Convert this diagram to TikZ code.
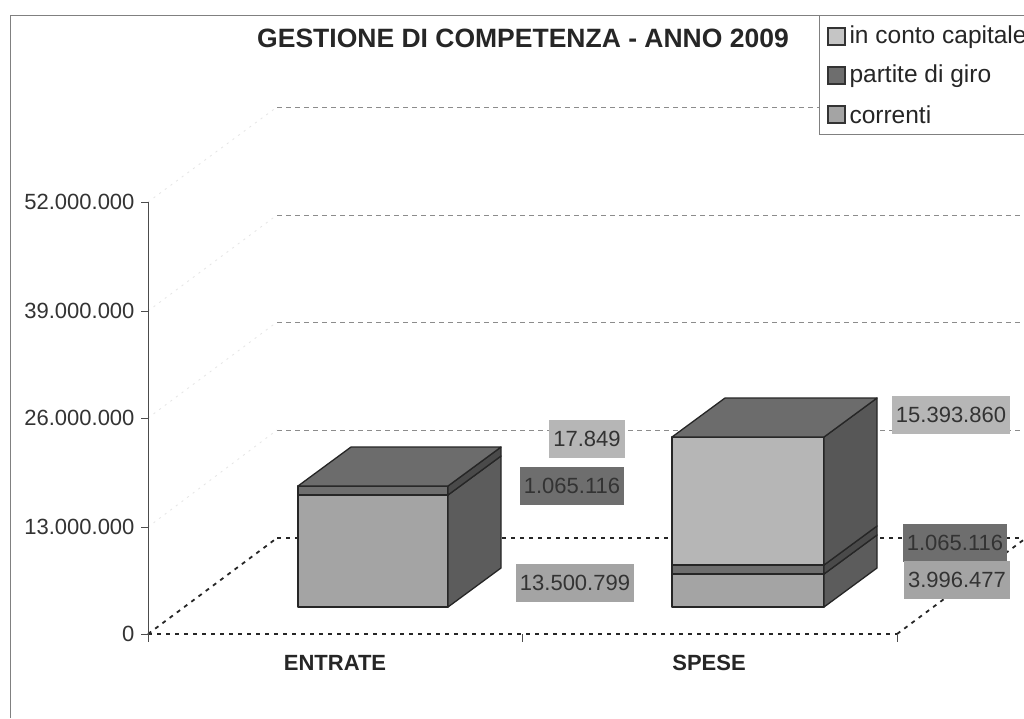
\documentclass[tikz,border=0pt]{standalone}
\usepackage{fontspec}
\setmainfont{Liberation Sans}
\usetikzlibrary{calc}
\definecolor{corrfront}{HTML}{A4A4A4}
\definecolor{corrside}{HTML}{5C5C5C}
\definecolor{girofront}{HTML}{6E6E6E}
\definecolor{giroside}{HTML}{4A4A4A}
\definecolor{capfront}{HTML}{B6B6B6}
\definecolor{capside}{HTML}{575757}
\definecolor{boxtop}{HTML}{6C6C6C}
\def\boxlayer[#1][#2](#3,#4)(#5:#6){\draw[boxedge, fill=#1] (#3, #5) rectangle (#4, #6);
	\draw[boxedge, fill=#2] (#4, #5) -- ++(53, -39) -- ++(0, #6-#5) -- (#4, #6) -- cycle;}

\begin{document}
\begin{tikzpicture}[x=1pt, y=-1pt,
		boxedge/.style={draw=black!85, line width=1.3pt, line join=round},
		gridline/.style={draw=black!45, line width=0.8pt, dash pattern=on 5pt off 4pt},
		flooredge/.style={draw=black!85, line width=1.8pt, dash pattern=on 4pt off 5pt},
		sidewall/.style={draw=black!10, line width=0.8pt, dash pattern=on 2pt off 5pt},
		ticklabel/.style={anchor=east, text=black!80, font=\fontsize{22}{24}\selectfont},
		catlabel/.style={text=black!85, font=\fontsize{22}{24}\selectfont\bfseries},
		vallabel/.style={inner xsep=4pt, inner ysep=0pt, minimum height=38pt, text=black!80, font=\fontsize{22}{24}\selectfont},
		legtext/.style={anchor=west, text=black!85, font=\fontsize{24.5}{26}\selectfont},
		legkey/.style={draw=black!80, line width=1.2pt}]
	%%%%% START %%%%%
	
	\useasboundingbox[fill=white] (0, 0) rectangle (1024, 718);
	\draw[black!50, line width=0.8pt] (10, 718) -- (10, 15) -- (1024, 15);
	
	% back wall and side wall
	\draw[gridline] (277, 107) -- (819, 107);
	\draw[gridline] (277, 215) -- (1024, 215);
	\draw[gridline] (277, 322) -- (1024, 322);
	\draw[gridline] (277, 430) -- (1024, 430);
	\draw[sidewall] (148, 202) -- (277, 107);
	\draw[sidewall] (148, 311) -- (277, 215);
	\draw[sidewall] (148, 418) -- (277, 322);
	\draw[sidewall] (148, 527) -- (277, 430);
	
	% floor
	\draw[flooredge] (277, 538) -- (1024, 538);
	\draw[flooredge] (148, 634) -- (277, 538);
	\draw[flooredge] (897, 634) -- (1026, 538);
	\draw[flooredge] (148, 634) -- (897, 634);
	
	% axis
	\draw[black!70, line width=0.9pt] (148, 202) -- (148, 642);
	\draw[black!70, line width=0.9pt] (141, 202) -- (148, 202);
	\draw[black!70, line width=0.9pt] (141, 311) -- (148, 311);
	\draw[black!70, line width=0.9pt] (141, 418) -- (148, 418);
	\draw[black!70, line width=0.9pt] (141, 527) -- (148, 527);
	\draw[black!70, line width=0.9pt] (141, 634) -- (148, 634);
	\draw[black!70, line width=0.9pt] (522, 634) -- (522, 642);
	\draw[black!70, line width=0.9pt] (897, 634) -- (897, 642);
	\node[ticklabel] (t52) at (138, 202) {52.000.000};
	\node[ticklabel] (t39) at (138, 311) {39.000.000};
	\node[ticklabel] (t26) at (138, 418) {26.000.000};
	\node[ticklabel] (t13) at (138, 527) {13.000.000};
	\node[ticklabel] (t0) at (138, 634) {0};
	
	% ENTRATE
	\boxlayer[corrfront][corrside](298, 448)(607:495);
	\boxlayer[girofront][giroside](298, 448)(495:486);
	\draw[boxedge, fill=boxtop] (298, 486) -- ++(53, -39) -- ++(150, 0) -- (448, 486) -- cycle;
	
	% SPESE
	\boxlayer[corrfront][corrside](672, 824)(607:574);
	\boxlayer[girofront][giroside](672, 824)(574:565);
	\boxlayer[capfront][capside](672, 824)(565:437);
	\draw[boxedge, fill=boxtop] (672, 437) -- ++(53, -39) -- ++(152, 0) -- (824, 437) -- cycle;
	
	\node[vallabel, fill=capfront] (ecap) at (587, 439) {17.849};
	\node[vallabel, fill=girofront] (egiro) at (572, 486) {1.065.116};
	\node[vallabel, fill=corrfront] (ecorr) at (575, 583) {13.500.799};
	\node[vallabel, fill=capfront] (scap) at (951, 415) {15.393.860};
	\node[vallabel, fill=girofront] (sgiro) at (955, 543) {1.065.116};
	\node[vallabel, fill=corrfront] (scorr) at (957, 580) {3.996.477};
	
	\node[catlabel] (entrate) at (335, 663) {ENTRATE};
	\node[catlabel] (spese) at (709, 663) {SPESE};
	
	\node[text=black!85, font=\fontsize{26.5}{30}\selectfont\bfseries] (title) at (523, 38) {GESTIONE DI COMPETENZA - ANNO 2009};
	
	% legend
	\draw[black!50, line width=0.8pt, fill=white] (819, 15) rectangle (1030, 134);
	\draw[legkey, fill=capfront!80!white] (828, 28) rectangle (845, 45);
	\draw[legkey, fill=girofront] (828, 67) rectangle (845, 84);
	\draw[legkey, fill=corrfront] (828, 106) rectangle (845, 123);
	\node[legtext] (lcap) at (846, 37) {in conto capitale};
	\node[legtext] (lgiro) at (846, 76) {partite di giro};
	\node[legtext] (lcorr) at (846, 115) {correnti};
	
	%%%%% END %%%%%
\end{tikzpicture}
\end{document}
